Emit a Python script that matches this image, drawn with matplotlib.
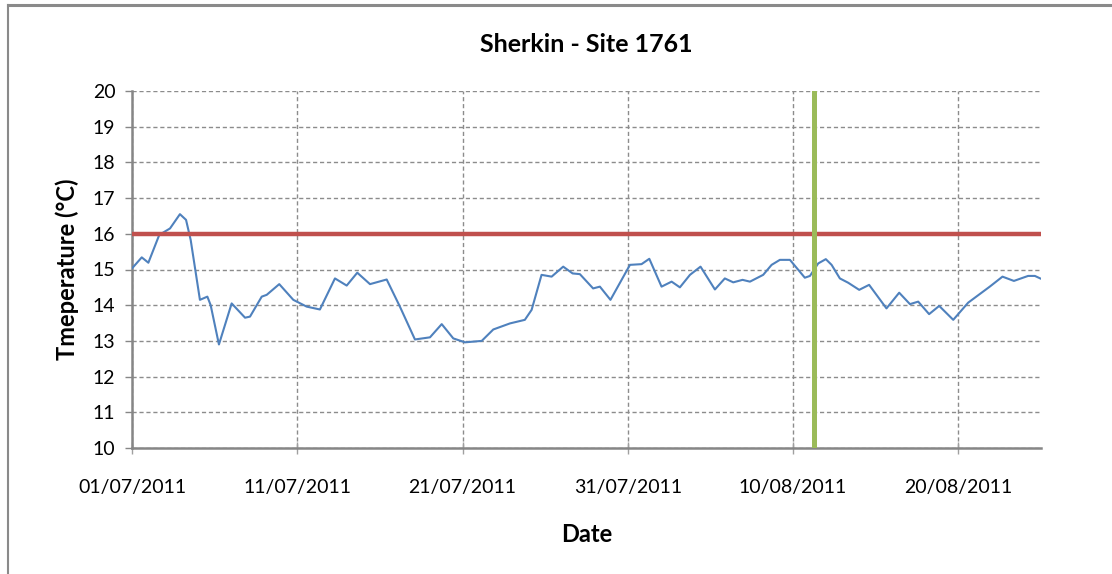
import matplotlib
matplotlib.use("Agg")
import matplotlib.pyplot as plt
import matplotlib.dates as mdates
from matplotlib.lines import Line2D
import pandas as pd

# ---- data ----
start_date = "2011-07-01"
day_offsets = [0.0, 0.59, 0.99, 1.65, 2.3, 2.9, 3.27, 3.55, 4.11, 4.56, 4.76, 5.26,
               6.03, 6.84, 7.14, 7.85, 8.15, 8.91, 9.76, 10.57, 11.37, 12.28, 12.99,
               13.63, 14.4, 15.41, 16.21, 17.12, 18.03, 18.74, 19.44, 20.15, 21.16,
               21.86, 22.87, 23.77, 24.18, 24.78, 25.39, 26.09, 26.66, 27.1, 27.9,
               28.31, 28.95, 30.13, 30.83, 31.3, 32.04, 32.65, 33.15, 33.76, 34.4,
               35.27, 35.87, 36.38, 36.94, 37.39, 38.19, 38.7, 39.2, 39.81, 40.71,
               41.02, 41.52, 41.98, 42.33, 42.83, 43.33, 44.0, 44.6, 45.65, 46.42,
               47.07, 47.57, 48.23, 48.84, 49.69, 50.59, 51.9, 52.67, 53.36, 54.22,
               54.63, 55.0]
temps = [15.03, 15.34, 15.19, 15.97, 16.15, 16.55, 16.39, 15.83, 14.15, 14.24, 14.0, 12.9,
         14.05, 13.65, 13.68, 14.24, 14.29, 14.59, 14.15, 13.96, 13.88, 14.75, 14.55,
         14.91, 14.59, 14.72, 13.96, 13.04, 13.10, 13.47, 13.07, 12.96, 13.0,
         13.32, 13.49, 13.59, 13.87, 14.85, 14.80, 15.08, 14.89, 14.87, 14.47,
         14.52, 14.15, 15.13, 15.15, 15.3, 14.52, 14.66, 14.50, 14.85, 15.08,
         14.44, 14.75, 14.64, 14.71, 14.66, 14.85, 15.13, 15.27, 15.27, 14.77,
         14.82, 15.17, 15.29, 15.13, 14.75, 14.63, 14.43, 14.57, 13.91, 14.35,
         14.03, 14.1, 13.75, 13.98, 13.59, 14.07, 14.52, 14.8, 14.68, 14.82,
         14.82, 14.74]
threshold = 16
event_day_offset = 41.25
title = "Sherkin - Site 1761"
xlabel = "Date"
ylabel = "Tmeperature (°C)"
tick_dates = ["2011-07-01", "2011-07-11", "2011-07-21", "2011-07-31", "2011-08-10", "2011-08-20"]
y_ticks = list(range(10, 21))

# ---- figure ----
plt.rcParams['font.family'] = ['Lato', 'DejaVu Sans']
fig = plt.figure(figsize=(11.12, 5.74), dpi=100)
ax = fig.add_axes([132/1112, 1-448/574, (1041-132)/1112, (448-91)/574])

t0 = pd.Timestamp(start_date)
dates = t0 + pd.to_timedelta(day_offsets, unit="D")
event_date = t0 + pd.to_timedelta(event_day_offset, unit="D")

ax.plot(dates, temps, color="#4F81BD", lw=1.5, zorder=3,
        solid_joinstyle="round", solid_capstyle="round")
ax.axhline(threshold, color="#C0504D", lw=3.2, zorder=4)
ax.axvline(event_date, color="#9BBB59", lw=3.6, zorder=5)

ax.set_xlim(t0, t0 + pd.Timedelta(days=55))
ax.set_ylim(10, 20)
ax.set_yticks(y_ticks)
ax.set_xticks(pd.to_datetime(tick_dates))
ax.xaxis.set_major_formatter(mdates.DateFormatter("%d/%m/%Y"))

ax.grid(True, color="#8c8c8c", linestyle=(0, (3, 2)), lw=1.0)
ax.set_axisbelow(True)
for s in ["top", "right"]:
    ax.spines[s].set_visible(False)
for s in ["left", "bottom"]:
    ax.spines[s].set_color("#868686")
    ax.spines[s].set_linewidth(1.8)
ax.tick_params(axis="y", direction="out", length=5, color="#868686", width=1, labelsize=14, pad=7)
ax.tick_params(axis="x", direction="inout", length=8, color="#a0a0a0", width=1, labelsize=14, pad=18)

ax.set_title(title, fontsize=18, fontweight="bold", pad=28)
ax.set_xlabel(xlabel, fontsize=17, fontweight="bold", labelpad=20)
ax.set_ylabel(ylabel, fontsize=17, fontweight="bold", labelpad=10)

# chart border (top and left visible in reference)
fig.add_artist(Line2D([8/1112, 1], [1-5/574, 1-5/574], transform=fig.transFigure, color="#8a8a8a", lw=2.2))
fig.add_artist(Line2D([8/1112, 8/1112], [0, 1-5/574], transform=fig.transFigure, color="#8a8a8a", lw=1.5))

fig.savefig("out.png", dpi=100)
